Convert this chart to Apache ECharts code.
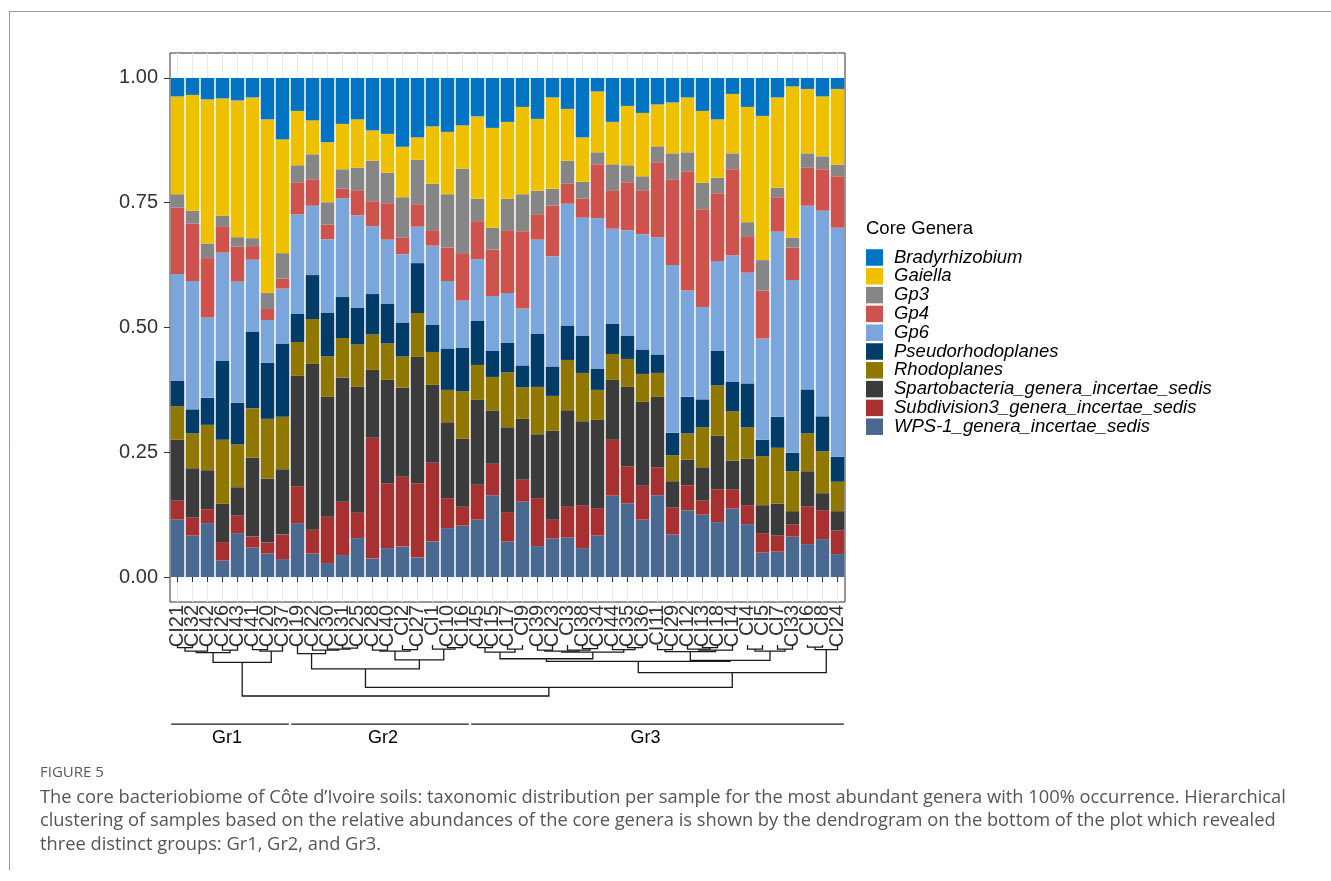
<!DOCTYPE html>
<html>
<head>
<meta charset="utf-8">
<title>Core bacteriobiome of Côte d’Ivoire soils</title>
<style>
  html, body { margin: 0; padding: 0; background: #ffffff; }
  #chart { width: 1331px; height: 881px; }
</style>
<script src="https://cdn.jsdelivr.net/npm/echarts@6/dist/echarts.min.js"></script>
</head>
<body>
<div id="chart"></div>
<script>
// Samples in dendrogram order
const samples = ['CI21','CI32','CI42','CI26','CI43','CI41','CI20','CI37','CI19','CI22','CI30','CI31','CI25','CI28','CI40','CI2','CI27','CI1','CI10','CI16','CI45','CI15','CI17','CI9','CI39','CI23','CI3','CI38','CI34','CI44','CI35','CI36','CI11','CI29','CI12','CI13','CI18','CI14','CI4','CI5','CI7','CI33','CI6','CI8','CI24'];

// Relative abundance of each core genus per sample
const wps1 = [.115,.083,.108,.033,.088,.059,.047,.036,.108,.047,.028,.044,.078,.037,.058,.061,.039,.071,.098,.103,.115,.164,.071,.151,.062,.077,.079,.058,.083,.163,.148,.115,.164,.085,.134,.125,.110,.137,.106,.049,.051,.081,.066,.076,.046];
const subdivision3 = [.038,.036,.028,.037,.035,.022,.022,.049,.074,.048,.093,.107,.051,.242,.130,.140,.149,.158,.060,.038,.070,.063,.059,.044,.096,.038,.062,.086,.055,.112,.074,.068,.056,.054,.050,.028,.066,.038,.038,.039,.032,.024,.075,.058,.047];
const spartobacteria = [.122,.099,.078,.077,.057,.158,.128,.131,.221,.332,.240,.249,.252,.136,.207,.179,.253,.156,.152,.136,.170,.107,.170,.122,.128,.178,.193,.168,.177,.120,.159,.168,.141,.053,.051,.067,.107,.058,.093,.056,.064,.027,.071,.034,.039];
const rhodoplanes = [.067,.070,.091,.128,.086,.099,.120,.105,.068,.090,.081,.079,.085,.071,.073,.062,.088,.066,.065,.095,.070,.067,.110,.063,.095,.070,.101,.097,.060,.052,.056,.056,.048,.052,.053,.080,.101,.099,.063,.098,.112,.080,.076,.084,.059];
const pseudorhodoplanes = [.051,.048,.054,.158,.083,.154,.112,.147,.056,.088,.088,.082,.074,.081,.080,.068,.100,.054,.083,.087,.088,.052,.059,.044,.106,.059,.069,.074,.042,.060,.046,.049,.037,.045,.073,.056,.069,.059,.088,.033,.062,.037,.088,.070,.050];
const gp6 = [.214,.257,.161,.217,.243,.144,.086,.110,.200,.139,.147,.198,.185,.136,.128,.137,.073,.159,.135,.095,.124,.110,.100,.114,.189,.221,.244,.237,.302,.191,.212,.231,.235,.336,.213,.185,.180,.254,.222,.203,.371,.346,.368,.412,.459];
const gp4 = [.133,.115,.119,.053,.070,.027,.022,.020,.064,.053,.029,.019,.050,.050,.073,.033,.045,.031,.067,.095,.076,.093,.126,.155,.051,.101,.040,.038,.108,.077,.096,.088,.150,.172,.238,.196,.136,.172,.073,.096,.069,.065,.076,.083,.103];
const gp3 = [.027,.026,.029,.021,.019,.016,.032,.051,.034,.050,.045,.039,.045,.081,.061,.081,.089,.093,.107,.169,.045,.044,.063,.074,.047,.034,.046,.034,.024,.052,.034,.028,.032,.052,.039,.053,.031,.032,.028,.061,.019,.020,.029,.026,.023];
const gaiella = [.196,.232,.289,.235,.274,.282,.348,.228,.109,.068,.120,.091,.097,.061,.078,.101,.045,.115,.125,.087,.165,.200,.154,.175,.144,.183,.104,.089,.122,.085,.119,.127,.084,.102,.110,.144,.117,.119,.231,.289,.181,.303,.129,.120,.152];
const bradyrhizobium = [.037,.034,.043,.041,.045,.039,.083,.123,.066,.085,.129,.092,.083,.105,.112,.138,.119,.097,.108,.095,.077,.100,.088,.058,.082,.039,.062,.119,.027,.088,.056,.070,.053,.049,.039,.066,.083,.032,.058,.076,.039,.017,.022,.037,.022];

// Genus names, colours and values, bottom of the stack first
const genusNames = ['WPS-1_genera_incertae_sedis','Subdivision3_genera_incertae_sedis','Spartobacteria_genera_incertae_sedis','Rhodoplanes','Pseudorhodoplanes','Gp6','Gp4','Gp3','Gaiella','Bradyrhizobium'];
const genusColors = ['#4A6990','#A73030','#3B3B3B','#8F7700','#003C67','#7AA6DC','#CD534C','#868686','#EFC000','#0073C2'];
const genusValues = [wps1, subdivision3, spartobacteria, rhodoplanes, pseudorhodoplanes, gp6, gp4, gp3, gaiella, bradyrhizobium];

const yTicks = [0, 0.25, 0.5, 0.75, 1];

// Hierarchical clustering: [node, left child, right child, merge height]
const dendroMerges = [
  ['A1','CI21','CI32',0.05], ['A2','A1','CI42',0.12], ['A3','CI26','CI43',0.10], ['A4','A2','A3',0.15],
  ['A5','CI41','CI20',0.09], ['A6','A5','CI37',0.12], ['G1','A4','A6',0.34],
  ['B1','CI31','CI25',0.06], ['B2','CI30','B1',0.08], ['B3','CI22','B2',0.10], ['B4','CI19','B3',0.17],
  ['C1','CI28','CI40',0.10], ['C2','CI2','CI27',0.09], ['C3','C1','C2',0.12],
  ['D1','CI10','CI16',0.05], ['D2','CI1','D1',0.08], ['C4','C3','D2',0.29], ['G2','B4','C4',0.47],
  ['E1','CI45','CI15',0.05], ['E2','CI17','CI9',0.08], ['E3','E1','E2',0.14],
  ['F1','CI39','CI23',0.10], ['F2','CI38','CI34',0.07], ['F3','CI3','F2',0.10], ['F4','F1','F3',0.12],
  ['F5','CI35','CI36',0.05], ['F6','CI44','F5',0.09], ['F7','F4','F6',0.14], ['E4','E3','F7',0.27],
  ['H1','CI11','CI29',0.09], ['H2','CI13','CI18',0.05], ['H3','CI12','H2',0.08], ['H4','H3','CI14',0.10],
  ['H5','H1','H4',0.13], ['I1','CI4','CI5',0.08], ['I2','CI7','CI33',0.08], ['I3','I1','I2',0.12],
  ['H6','H5','I3',0.30], ['E5','E4','H6',0.32], ['J1','CI6','CI8',0.04], ['J2','J1','CI24',0.09],
  ['G3','E5','J2',0.54], ['K','G2','G3',0.83], ['R','G1','K',1.00]
];

// Sample groups cut from the tree
const groupNames = ['Gr1','Gr2','Gr3'];
const groupFirst = ['CI21','CI19','CI45'];
const groupLast = ['CI37','CI16','CI24'];
const groupLabelAt = [3.3, 13.7, 31.2];

const captionHead = 'FIGURE 5';
const captionLines = [
  'The core bacteriobiome of Côte d’Ivoire soils: taxonomic distribution per sample for the most abundant genera with 100% occurrence. Hierarchical',
  'clustering of samples based on the relative abundances of the core genera is shown by the dendrogram on the bottom of the plot which revealed',
  'three distinct groups: Gr1, Gr2, and Gr3.'
];

// Build dendrogram segments: x of a node is the midpoint of its children
const nodePos = {};
samples.forEach((s, i) => { nodePos[s] = { x: i, h: 0 }; });
const dendroData = dendroMerges.map(([id, l, r, h]) => {
  const a = nodePos[l], b = nodePos[r];
  nodePos[id] = { x: (a.x + b.x) / 2, h: h };
  return [a.x, b.x, h, a.h, b.h];
});

const groupData = groupNames.map((g, i) => [
  samples.indexOf(groupFirst[i]) - 0.5 + 0.08,
  samples.indexOf(groupLast[i]) + 0.5 - 0.08,
  groupLabelAt[i]
]);

const FONT = '"Liberation Sans", Arial, sans-serif';
const chart = echarts.init(document.getElementById('chart'), null, { renderer: 'canvas' });

const barSeries = genusNames.map((name, k) => ({
  name: name,
  type: 'bar',
  stack: 'total',
  xAxisIndex: 0,
  yAxisIndex: 0,
  barWidth: '90%',
  itemStyle: { color: genusColors[k] },
  emphasis: { disabled: true },
  data: genusValues[k]
}));

chart.setOption({
  animation: false,
  backgroundColor: '#ffffff',
  grid: [
    { left: 170, top: 53, width: 675, height: 549, show: true, borderColor: '#333333', borderWidth: 1, backgroundColor: '#ffffff' },
    { left: 170, top: 645, width: 675, height: 102 }
  ],
  xAxis: [
    {
      type: 'category', gridIndex: 0, data: samples,
      axisLine: { show: false },
      axisTick: { show: true, alignWithLabel: true, length: 5, lineStyle: { color: '#333333' } },
      axisLabel: { rotate: 90, interval: 0, fontSize: 20, color: '#333333', fontFamily: FONT, margin: 3 },
      splitLine: { show: true, alignWithLabel: true, lineStyle: { color: '#EBEBEB', width: 1 } }
    },
    { type: 'value', gridIndex: 1, min: -0.5, max: 44.5, show: false }
  ],
  yAxis: [
    {
      type: 'value', gridIndex: 0, min: -0.05, max: 1.05,
      axisLine: { show: false },
      axisTick: { show: true, length: 6, customValues: yTicks, lineStyle: { color: '#333333' } },
      axisLabel: { customValues: yTicks, formatter: v => v.toFixed(2), fontSize: 20, color: '#333333', fontFamily: FONT, margin: 12 },
      splitLine: { show: false }
    },
    { type: 'value', gridIndex: 1, min: 0, max: 2, inverse: true, show: false }
  ],
  legend: {
    orient: 'vertical', left: 866, top: 248, padding: 0,
    itemWidth: 17, itemHeight: 16.5, itemGap: -0.2, icon: 'rect',
    selectedMode: false,
    data: genusNames.slice().reverse(),
    textStyle: { fontSize: 18.5, fontStyle: 'italic', color: '#000000', fontFamily: FONT, lineHeight: 17, padding: [0, 0, 0, 6] }
  },
  series: barSeries.concat([
    {
      type: 'custom', name: 'dendrogram', xAxisIndex: 1, yAxisIndex: 1, silent: true,
      data: dendroData,
      renderItem: (params, api) => {
        const x1 = api.value(0), x2 = api.value(1), h = api.value(2);
        const p1 = api.coord([x1, api.value(3)]);
        const p2 = api.coord([x1, h]);
        const p3 = api.coord([x2, h]);
        const p4 = api.coord([x2, api.value(4)]);
        return {
          type: 'polyline',
          shape: { points: [p1, p2, p3, p4] },
          style: { stroke: '#1a1a1a', lineWidth: 1.3, fill: null }
        };
      }
    },
    {
      type: 'custom', name: 'groups', xAxisIndex: 1, yAxisIndex: 1, silent: true,
      data: groupData,
      renderItem: (params, api) => {
        const a = api.coord([api.value(0), 1.55]);
        const b = api.coord([api.value(1), 1.55]);
        const c = api.coord([api.value(2), 1.82]);
        return {
          type: 'group',
          children: [
            { type: 'line', shape: { x1: a[0], y1: a[1], x2: b[0], y2: b[1] }, style: { stroke: '#1a1a1a', lineWidth: 1.3 } },
            { type: 'text', x: c[0], y: c[1], style: { text: groupNames[params.dataIndex], font: '18px ' + FONT, fill: '#000000', align: 'center', verticalAlign: 'middle' } }
          ]
        };
      }
    }
  ]),
  graphic: [
    { type: 'line', shape: { x1: 9, y1: 11.5, x2: 1331, y2: 11.5 }, style: { stroke: '#9a9a9a', lineWidth: 1 } },
    { type: 'line', shape: { x1: 9.5, y1: 11, x2: 9.5, y2: 870 }, style: { stroke: '#9a9a9a', lineWidth: 1 } },
    { type: 'text', x: 866, y: 229, style: { text: 'Core Genera', font: '18.5px ' + FONT, fill: '#000000', verticalAlign: 'middle' } },
    { type: 'text', x: 40, y: 773, style: { text: captionHead, font: '15px "Open Sans", sans-serif', fill: '#5a5a5a', verticalAlign: 'middle' } },
    { type: 'text', x: 40, y: 786, style: { text: captionLines.join('\n'), font: '18.3px "Open Sans", sans-serif', lineHeight: 23.5, fill: '#555555', verticalAlign: 'top' } }
  ]
});
</script>
</body>
</html>
